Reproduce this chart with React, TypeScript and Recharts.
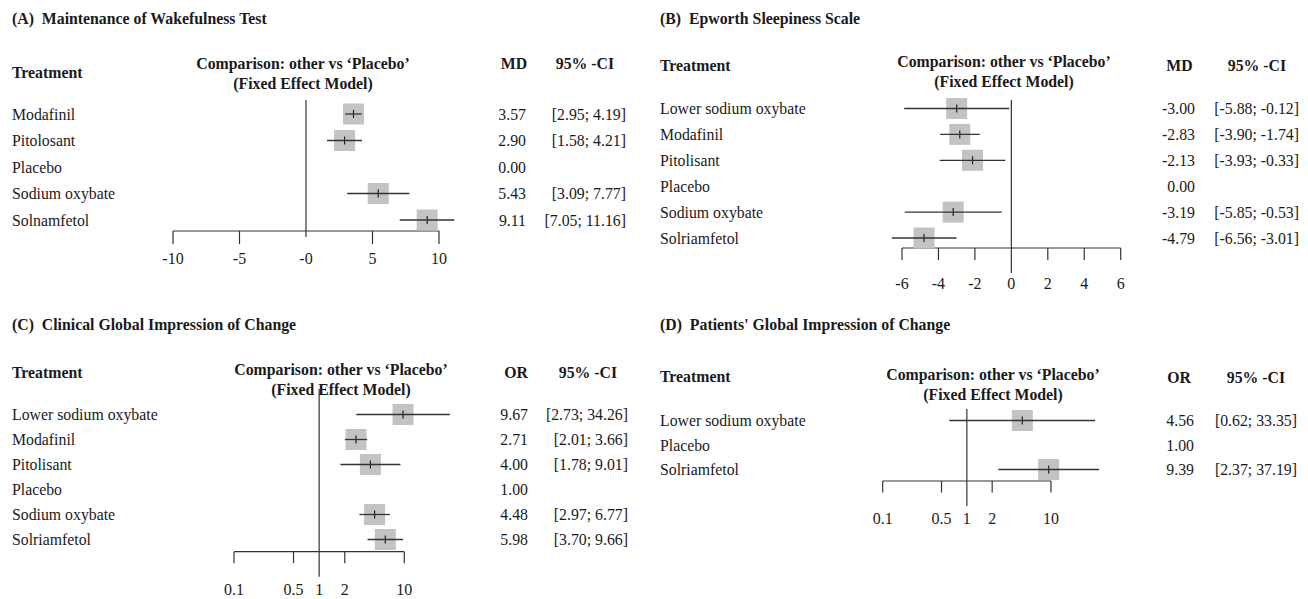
import { ComposedChart, ReferenceLine, Scatter, XAxis, YAxis } from "recharts"

// (A) Maintenance of Wakefulness Test
const treatmentsA = ["Modafinil", "Pitolosant", "Placebo", "Sodium oxybate", "Solnamfetol"]
const mdA = [3.57, 2.9, 0.0, 5.43, 9.11]
const lowA = [2.95, 1.58, null, 3.09, 7.05]
const highA = [4.19, 4.21, null, 7.77, 11.16]
const ticksA = [-10, -5, 0, 5, 10]
const tickLabelsA = ["-10", "-5", "-0", "5", "10"]

// (B) Epworth Sleepiness Scale
const treatmentsB = ["Lower sodium oxybate", "Modafinil", "Pitolisant", "Placebo", "Sodium oxybate", "Solriamfetol"]
const mdB = [-3.0, -2.83, -2.13, 0.0, -3.19, -4.79]
const lowB = [-5.88, -3.9, -3.93, null, -5.85, -6.56]
const highB = [-0.12, -1.74, -0.33, null, -0.53, -3.01]
const ticksB = [-6, -4, -2, 0, 2, 4, 6]
const tickLabelsB = ["-6", "-4", "-2", "0", "2", "4", "6"]

// (C) Clinical Global Impression of Change
const treatmentsC = ["Lower sodium oxybate", "Modafinil", "Pitolisant", "Placebo", "Sodium oxybate", "Solriamfetol"]
const orC = [9.67, 2.71, 4.0, 1.0, 4.48, 5.98]
const lowC = [2.73, 2.01, 1.78, null, 2.97, 3.7]
const highC = [34.26, 3.66, 9.01, null, 6.77, 9.66]

// (D) Patients' Global Impression of Change
const treatmentsD = ["Lower sodium oxybate", "Placebo", "Solriamfetol"]
const orD = [4.56, 1.0, 9.39]
const lowD = [0.62, null, 2.37]
const highD = [33.35, null, 37.19]

const ticksOR = [0.1, 0.5, 1, 2, 10]
const tickLabelsOR = ["0.1", "0.5", "1", "2", "10"]

const W = 654
const ink = "#1a1a1a"
const stroke = "#333"
const boxFill = "#c3c3c3"
const serif = '"Liberation Serif", "Times New Roman", serif'

type Panel = {
  left: number
  top: number
  height: number
  title: string
  measure: string
  treatments: string[]
  est: number[]
  low: (number | null)[]
  high: (number | null)[]
  ticks: number[]
  tickLabels: string[]
  nullValue: number
  log: boolean
  // layout, in px inside the panel
  axisLeft: number
  axisRight: number
  plotTop: number
  axisY: number
  firstRow: number
  rowGap: number
  tickLen: number
  nullExt: number
  labelGap: number
  labelX: number
  valueRight: number
  ciRight: number
  titleY: number
  treatY: number
  compX: number
  compY: number
  headY: number
  measureX: number
  ciHeadX: number
}

const panels: Panel[] = [
  {
    left: 0, top: 0, height: 300,
    title: "(A)  Maintenance of Wakefulness Test", measure: "MD",
    treatments: treatmentsA, est: mdA, low: lowA, high: highA,
    ticks: ticksA, tickLabels: tickLabelsA, nullValue: 0, log: false,
    axisLeft: 173, axisRight: 439, plotTop: 100, axisY: 231, firstRow: 114, rowGap: 26.5,
    tickLen: 13, nullExt: 6, labelGap: 27,
    labelX: 12, valueRight: 526, ciRight: 626,
    titleY: 18.5, treatY: 73, compX: 303, compY: 64, headY: 64, measureX: 514, ciHeadX: 585,
  },
  {
    left: 654, top: 0, height: 300,
    title: "(B)  Epworth Sleepiness Scale", measure: "MD",
    treatments: treatmentsB, est: mdB, low: lowB, high: highB,
    ticks: ticksB, tickLabels: tickLabelsB, nullValue: 0, log: false,
    axisLeft: 248, axisRight: 466.7, plotTop: 100, axisY: 248, firstRow: 108.5, rowGap: 25.9,
    tickLen: 12, nullExt: 25, labelGap: 35,
    labelX: 6, valueRight: 541, ciRight: 645,
    titleY: 18.5, treatY: 66, compX: 350, compY: 62, headY: 66, measureX: 525.5, ciHeadX: 603,
  },
  {
    left: 0, top: 300, height: 299,
    title: "(C)  Clinical Global Impression of Change", measure: "OR",
    treatments: treatmentsC, est: orC, low: lowC, high: highC,
    ticks: ticksOR, tickLabels: tickLabelsOR, nullValue: 1, log: true,
    axisLeft: 234, axisRight: 404.3, plotTop: 89, axisY: 251.7, firstRow: 114.5, rowGap: 25,
    tickLen: 11.5, nullExt: 25, labelGap: 38,
    labelX: 12, valueRight: 528, ciRight: 628,
    titleY: 25, treatY: 73, compX: 341, compY: 70, headY: 73, measureX: 516, ciHeadX: 588,
  },
  {
    left: 654, top: 300, height: 299,
    title: "(D)  Patients' Global Impression of Change", measure: "OR",
    treatments: treatmentsD, est: orD, low: lowD, high: highD,
    ticks: ticksOR, tickLabels: tickLabelsOR, nullValue: 1, log: true,
    axisLeft: 228.7, axisRight: 397, plotTop: 109, axisY: 181, firstRow: 120.5, rowGap: 24.5,
    tickLen: 11.5, nullExt: 25, labelGap: 37.5,
    labelX: 6, valueRight: 540, ciRight: 643,
    titleY: 25, treatY: 77, compX: 339, compY: 75, headY: 78, measureX: 525, ciHeadX: 602,
  },
]

function AxisTick(props: any) {
  const { x, y, payload, panel } = props
  const p = panel as Panel
  const i = p.ticks.indexOf(payload.value)
  const isNull = payload.value === p.nullValue
  return (
    <g>
      <line x1={x} x2={x} y1={y} y2={y + (isNull ? p.nullExt : p.tickLen)} stroke={stroke} strokeWidth={1.2} />
      <text x={x} y={y + p.labelGap} dy="0.35em" textAnchor="middle" fontFamily={serif} fontSize={16} fill={ink}>
        {p.tickLabels[i]}
      </text>
    </g>
  )
}

function RowTick(props: any) {
  const { y, payload, panel } = props
  const p = panel as Panel
  const i = payload.value
  const low = p.low[i]
  const high = p.high[i]
  return (
    <g fontFamily={serif} fontSize={15.8} fill={ink}>
      <text x={p.labelX} y={y} dy="0.35em" textAnchor="start">{p.treatments[i]}</text>
      <text x={p.valueRight} y={y} dy="0.35em" textAnchor="end">{p.est[i].toFixed(2)}</text>
      {low != null && high != null && (
        <text x={p.ciRight} y={y} dy="0.35em" textAnchor="end">{`[${low.toFixed(2)}; ${high.toFixed(2)}]`}</text>
      )}
    </g>
  )
}

function renderBox(props: any) {
  const { cx, cy } = props
  return (
    <g>
      <rect x={cx - 10.5} y={cy - 10.5} width={21} height={21} fill={boxFill} />
      <line x1={cx} x2={cx} y1={cy - 4} y2={cy + 4} stroke="#222" strokeWidth={1.2} />
    </g>
  )
}

const bold = { position: "absolute" as const, lineHeight: "20px", fontWeight: 700, fontSize: 15.8, whiteSpace: "pre" as const, color: ink }

function Label({ x, y, center, children }: { x: number; y: number; center?: boolean; children: string }) {
  return (
    <div style={{ ...bold, left: x, top: y - 10, transform: center ? "translateX(-50%)" : undefined }}>{children}</div>
  )
}

function ForestPanel({ p }: { p: Panel }) {
  const rows = p.treatments.map((name, i) => ({ row: i, name, est: p.est[i], low: p.low[i], high: p.high[i] }))
  const withCi = rows.filter(r => r.low != null && r.high != null)
  const yDomain = [(p.plotTop - p.firstRow) / p.rowGap, (p.axisY - p.firstRow) / p.rowGap]

  return (
    <div style={{ position: "absolute", left: p.left, top: p.top, width: W, height: p.height }}>
      <ComposedChart width={W} height={p.height} margin={{ top: p.plotTop, right: W - p.axisRight, bottom: 0, left: 0 }}>
        <XAxis
          type="number"
          dataKey="est"
          scale={p.log ? "log" : "linear"}
          domain={[p.ticks[0], p.ticks[p.ticks.length - 1]]}
          ticks={p.ticks}
          interval={0}
          height={p.height - p.axisY}
          tickSize={0}
          tickMargin={0}
          tickLine={false}
          axisLine={{ stroke, strokeWidth: 1.2 }}
          tick={(tp: any) => <AxisTick {...tp} panel={p} />}
        />
        <YAxis
          type="number"
          dataKey="row"
          domain={yDomain}
          reversed
          ticks={rows.map(r => r.row)}
          interval={0}
          width={p.axisLeft}
          axisLine={false}
          tickLine={false}
          tick={(tp: any) => <RowTick {...tp} panel={p} />}
        />
        <ReferenceLine x={p.nullValue} stroke={stroke} strokeWidth={1.2} />
        <Scatter data={withCi} shape={renderBox} isAnimationActive={false} />
        {withCi.map(r => (
          <ReferenceLine
            key={r.name}
            segment={[{ x: r.low as number, y: r.row }, { x: r.high as number, y: r.row }]}
            ifOverflow="visible"
            stroke={stroke}
            strokeWidth={1.3}
            zIndex={700}
          />
        ))}
      </ComposedChart>
      <Label x={p.labelX} y={p.titleY}>{p.title}</Label>
      <Label x={p.labelX} y={p.treatY}>Treatment</Label>
      <Label x={p.compX} y={p.compY} center>Comparison: other vs ‘Placebo’</Label>
      <Label x={p.compX} y={p.compY + 20} center>(Fixed Effect Model)</Label>
      <Label x={p.measureX} y={p.headY} center>{p.measure}</Label>
      <Label x={p.ciHeadX} y={p.headY} center>95% -CI</Label>
    </div>
  )
}

export default function App() {
  return (
    <div style={{ position: "absolute", left: 0, top: 0, width: 1308, height: 599, background: "#fff", fontFamily: serif, overflow: "hidden" }}>
      {panels.map(p => (
        <ForestPanel key={p.title} p={p} />
      ))}
    </div>
  )
}
